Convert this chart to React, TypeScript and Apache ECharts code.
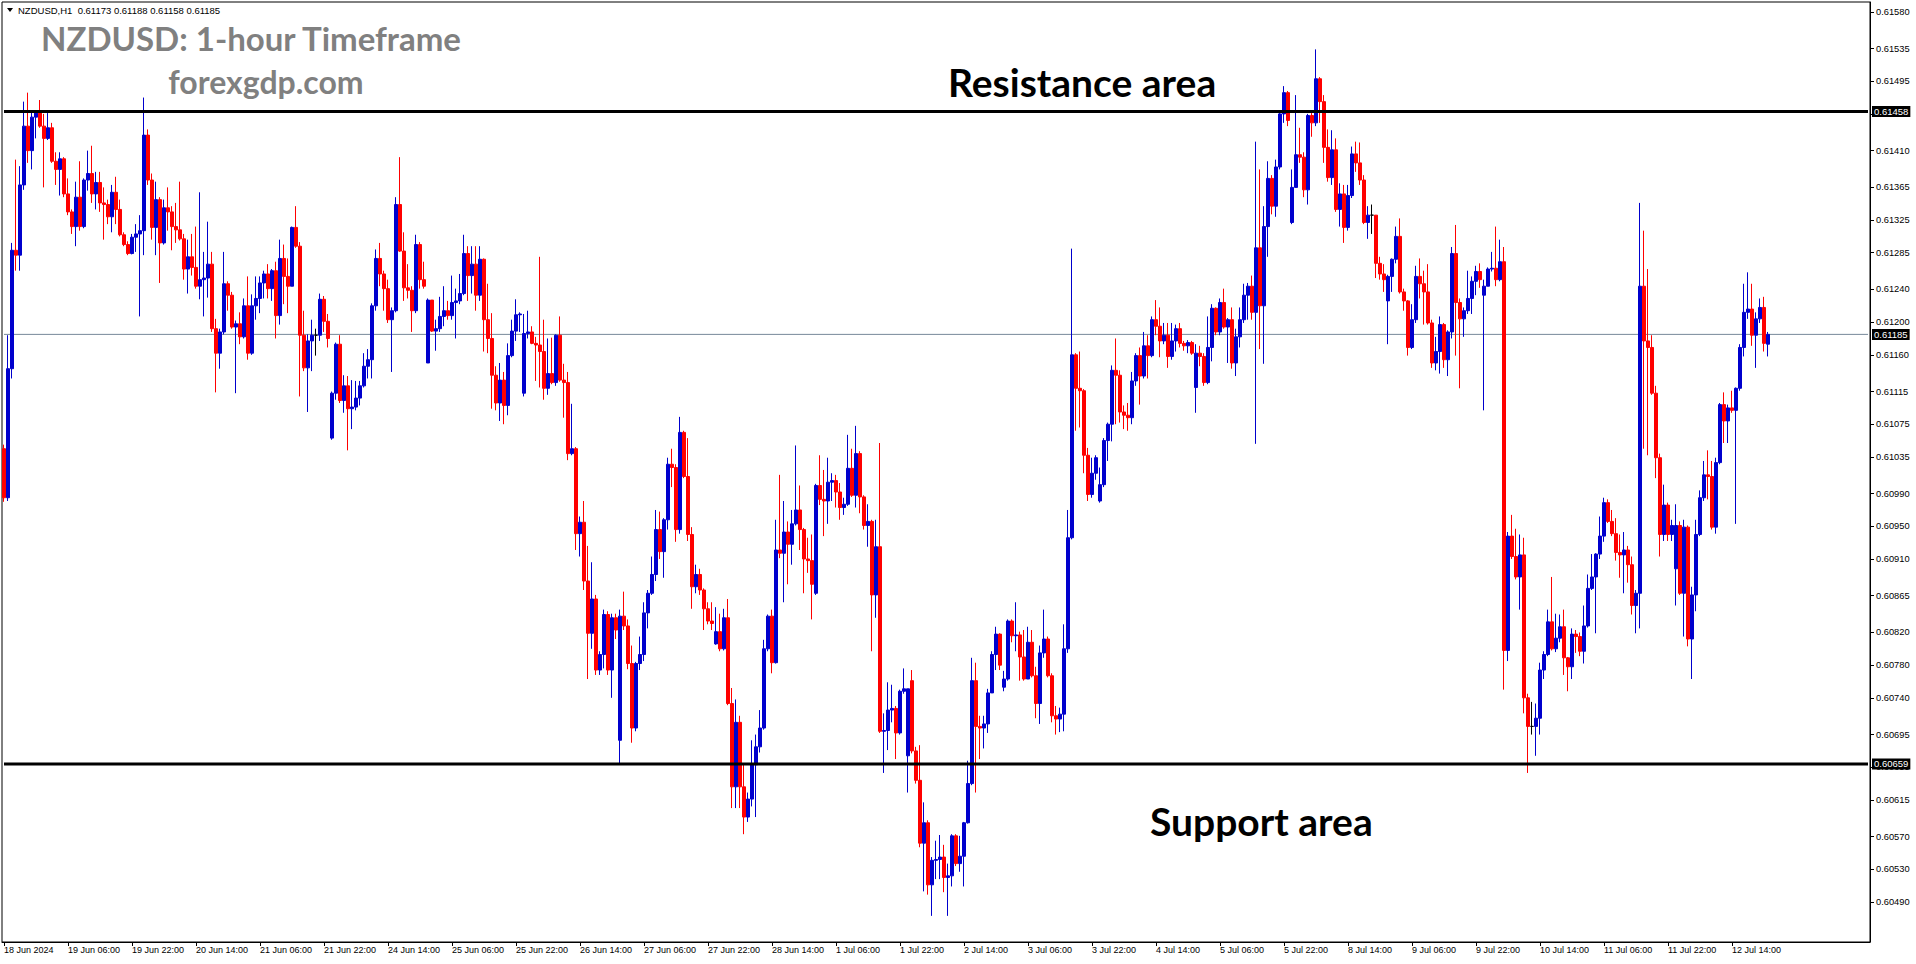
import React, { useEffect, useRef } from "react";
import * as echarts from "echarts";

// Prices are stored in points of 0.00001 above 0.60000 (e.g. 1458 -> 0.61458)
const BASE = 0.6;

const opens = [
  1045, 985, 1143, 1288, 1282, 1368, 1440, 1410, 1451, 1456,
  1440, 1425, 1438, 1397, 1387, 1400, 1357, 1335, 1317, 1353,
  1317, 1374, 1382, 1357, 1371, 1346, 1344, 1329, 1359, 1338,
  1307, 1295, 1284, 1304, 1308, 1312, 1429, 1374, 1316, 1350,
  1297, 1340, 1335, 1317, 1313, 1302, 1265, 1280, 1267, 1244,
  1252, 1254, 1271, 1192, 1162, 1188, 1247, 1233, 1194, 1198,
  1182, 1220, 1162, 1220, 1229, 1248, 1259, 1241, 1263, 1208,
  1278, 1256, 1244, 1316, 1293, 1184, 1144, 1177, 1184, 1184,
  1228, 1201, 1058, 1113, 1173, 1104, 1122, 1094, 1096, 1107,
  1122, 1146, 1154, 1220, 1278, 1259, 1241, 1203, 1214, 1344,
  1287, 1242, 1239, 1214, 1295, 1252, 1150, 1227, 1189, 1192,
  1207, 1214, 1208, 1224, 1226, 1235, 1284, 1257, 1271, 1233,
  1277, 1203, 1180, 1135, 1101, 1129, 1098, 1159, 1189, 1209,
  1113, 1186, 1188, 1174, 1172, 1164, 1119, 1137, 1126, 1184,
  1129, 1126, 1039, 1045, 941, 955, 883, 819, 861, 774,
  793, 842, 774, 838, 688, 840, 828, 782, 703, 782,
  793, 844, 868, 891, 946, 919, 958, 1026, 1022, 946,
  1065, 1011, 940, 876, 891, 872, 849, 834, 806, 821,
  800, 838, 733, 631, 710, 631, 594, 616, 658, 680,
  703, 800, 840, 783, 921, 917, 943, 928, 953, 970,
  946, 910, 908, 868, 1000, 983, 981, 1004, 1006, 992,
  973, 977, 1021, 988, 1039, 986, 951, 956, 866, 925,
  699, 700, 725, 727, 697, 748, 669, 761, 675, 639,
  562, 587, 511, 541, 542, 545, 520, 522, 571, 537,
  546, 587, 635, 761, 705, 703, 708, 746, 793, 818,
  753, 763, 834, 816, 817, 790, 763, 808, 767, 733,
  795, 812, 767, 718, 714, 720, 800, 936, 1160, 1119,
  1116, 1037, 989, 1015, 981, 1001, 1055, 1075, 1141, 1135,
  1090, 1086, 1083, 1128, 1159, 1134, 1171, 1159, 1203, 1195,
  1177, 1184, 1158, 1177, 1192, 1174, 1171, 1175, 1120, 1162,
  1158, 1126, 1169, 1217, 1188, 1224, 1194, 1203, 1150, 1182,
  1203, 1233, 1244, 1212, 1291, 1220, 1317, 1376, 1342, 1390,
  1455, 1481, 1322, 1365, 1405, 1402, 1362, 1453, 1444, 1498,
  1470, 1414, 1377, 1411, 1338, 1357, 1316, 1355, 1406, 1395,
  1374, 1322, 1331, 1331, 1272, 1259, 1226, 1256, 1277, 1305,
  1237, 1226, 1169, 1203, 1256, 1247, 1237, 1199, 1150, 1164,
  1197, 1154, 1188, 1284, 1224, 1204, 1214, 1229, 1250, 1262,
  1233, 1244, 1265, 1266, 1252, 1274, 798, 938, 913, 888,
  915, 740, 705, 705, 715, 774, 793, 833, 800, 813,
  827, 789, 778, 818, 815, 797, 828, 874, 888, 916,
  938, 979, 956, 941, 918, 915, 921, 903, 853, 868,
  1244, 1177, 1169, 1113, 1034, 940, 976, 940, 898, 951,
  868, 949, 812, 866, 940, 985, 1013, 1011, 949, 1028,
  1099, 1079, 1095, 1092, 1119, 1169, 1212, 1216, 1184, 1204,
  1218, 1173,
];

const highs = [
  1050, 1184, 1297, 1399, 1391, 1470, 1481, 1458, 1459, 1472,
  1455, 1456, 1444, 1408, 1408, 1402, 1376, 1338, 1372, 1397,
  1376, 1410, 1416, 1384, 1384, 1365, 1350, 1368, 1378, 1350,
  1310, 1299, 1308, 1320, 1331, 1475, 1436, 1382, 1372, 1353,
  1350, 1365, 1342, 1346, 1372, 1308, 1301, 1308, 1317, 1359,
  1286, 1323, 1286, 1204, 1192, 1286, 1250, 1237, 1202, 1212,
  1229, 1256, 1234, 1256, 1256, 1263, 1271, 1265, 1274, 1301,
  1295, 1278, 1317, 1342, 1298, 1214, 1185, 1203, 1192, 1235,
  1232, 1210, 1115, 1175, 1184, 1135, 1134, 1129, 1128, 1128,
  1162, 1167, 1223, 1289, 1297, 1263, 1252, 1218, 1353, 1402,
  1310, 1271, 1244, 1307, 1298, 1274, 1229, 1227, 1203, 1231,
  1244, 1226, 1257, 1241, 1259, 1307, 1293, 1293, 1293, 1293,
  1278, 1247, 1211, 1146, 1150, 1139, 1174, 1203, 1228, 1212,
  1210, 1214, 1195, 1182, 1280, 1203, 1180, 1181, 1185, 1207,
  1149, 1139, 1100, 1047, 962, 981, 926, 906, 866, 797,
  848, 846, 843, 843, 848, 870, 836, 804, 784, 815,
  857, 872, 913, 970, 968, 960, 1034, 1045, 1026, 1084,
  1067, 1058, 949, 903, 898, 874, 857, 857, 851, 843,
  849, 861, 752, 738, 718, 658, 624, 688, 695, 725,
  811, 842, 848, 958, 1013, 981, 956, 970, 1049, 1000,
  948, 936, 940, 1002, 1037, 1019, 1034, 1015, 1013, 1003,
  985, 1062, 1045, 1073, 1042, 988, 977, 958, 958, 1052,
  721, 759, 756, 730, 750, 776, 751, 774, 680, 682,
  612, 590, 545, 565, 572, 560, 537, 573, 573, 571,
  588, 663, 789, 783, 718, 718, 751, 797, 827, 819,
  773, 836, 836, 857, 821, 823, 827, 823, 778, 804,
  848, 815, 770, 730, 728, 830, 970, 1290, 1162, 1164,
  1118, 1046, 1034, 1037, 1022, 1058, 1077, 1147, 1180, 1141,
  1098, 1101, 1139, 1162, 1169, 1188, 1184, 1207, 1227, 1218,
  1199, 1199, 1199, 1197, 1199, 1177, 1178, 1177, 1173, 1171,
  1162, 1207, 1222, 1218, 1229, 1241, 1205, 1218, 1192, 1218,
  1247, 1248, 1257, 1421, 1387, 1342, 1397, 1380, 1399, 1459,
  1489, 1483, 1387, 1478, 1438, 1408, 1455, 1456, 1534, 1500,
  1478, 1436, 1435, 1425, 1370, 1368, 1368, 1415, 1421, 1420,
  1380, 1342, 1344, 1331, 1280, 1271, 1258, 1278, 1317, 1327,
  1241, 1227, 1222, 1269, 1278, 1263, 1271, 1203, 1182, 1207,
  1199, 1190, 1292, 1319, 1229, 1218, 1263, 1256, 1269, 1272,
  1252, 1267, 1286, 1317, 1301, 1292, 943, 964, 947, 940,
  936, 745, 735, 733, 783, 797, 848, 888, 843, 842,
  848, 790, 825, 823, 820, 853, 891, 916, 917, 962,
  985, 983, 970, 960, 940, 943, 926, 913, 872, 1346,
  1312, 1265, 1184, 1122, 1039, 1001, 979, 958, 977, 956,
  958, 951, 876, 958, 994, 1030, 1043, 1030, 1034, 1101,
  1114, 1099, 1116, 1120, 1173, 1247, 1261, 1247, 1212, 1229,
  1231, 1188,
];

const lows = [
  980, 981, 1131, 1263, 1263, 1362, 1395, 1387, 1425, 1438,
  1365, 1423, 1395, 1368, 1355, 1353, 1331, 1308, 1293, 1312,
  1315, 1361, 1346, 1338, 1335, 1301, 1320, 1310, 1320, 1305,
  1293, 1282, 1283, 1286, 1207, 1282, 1368, 1301, 1282, 1248,
  1295, 1312, 1288, 1297, 1300, 1252, 1235, 1257, 1241, 1228,
  1207, 1230, 1188, 1114, 1143, 1185, 1214, 1192, 1113, 1173,
  1180, 1154, 1160, 1203, 1211, 1229, 1229, 1226, 1180, 1197,
  1222, 1211, 1244, 1291, 1109, 1140, 1090, 1140, 1159, 1177,
  1188, 1169, 1056, 1105, 1101, 1089, 1043, 1069, 1092, 1098,
  1120, 1131, 1131, 1214, 1244, 1214, 1199, 1139, 1212, 1286,
  1226, 1229, 1188, 1211, 1241, 1241, 1150, 1188, 1165, 1188,
  1195, 1203, 1203, 1180, 1222, 1233, 1226, 1235, 1214, 1226,
  1164, 1162, 1094, 1092, 1079, 1075, 1086, 1157, 1177, 1188,
  1109, 1180, 1173, 1128, 1120, 1105, 1111, 1124, 1122, 1127,
  1083, 1031, 1037, 921, 913, 872, 763, 800, 768, 768,
  776, 768, 740, 812, 660, 823, 775, 685, 699, 774,
  785, 825, 866, 883, 910, 887, 946, 998, 931, 941,
  1009, 932, 849, 868, 866, 823, 830, 823, 805, 797,
  798, 731, 605, 605, 605, 573, 588, 607, 594, 673,
  701, 797, 770, 782, 911, 857, 879, 903, 951, 921,
  868, 893, 836, 866, 976, 938, 953, 981, 973, 958,
  964, 975, 986, 973, 966, 946, 925, 797, 838, 697,
  648, 676, 710, 665, 695, 745, 624, 672, 635, 557,
  503, 499, 473, 518, 518, 502, 473, 509, 534, 527,
  509, 586, 633, 624, 665, 678, 697, 750, 774, 774,
  748, 761, 808, 797, 761, 761, 767, 765, 715, 708,
  789, 765, 710, 695, 698, 699, 795, 934, 1067, 1071,
  1015, 981, 985, 1007, 979, 998, 1030, 1054, 1075, 1077,
  1069, 1067, 1075, 1122, 1099, 1131, 1131, 1157, 1184, 1157,
  1173, 1144, 1154, 1164, 1169, 1165, 1162, 1160, 1089, 1146,
  1122, 1124, 1152, 1184, 1184, 1192, 1150, 1143, 1134, 1169,
  1199, 1203, 1203, 1051, 1167, 1149, 1280, 1332, 1329, 1387,
  1444, 1440, 1320, 1382, 1395, 1353, 1344, 1427, 1440, 1444,
  1395, 1372, 1368, 1335, 1317, 1297, 1312, 1352, 1384, 1368,
  1320, 1302, 1308, 1254, 1252, 1237, 1173, 1237, 1272, 1235,
  1214, 1159, 1167, 1199, 1229, 1197, 1197, 1144, 1141, 1137,
  1144, 1134, 1180, 1159, 1119, 1182, 1210, 1210, 1233, 1242,
  1092, 1244, 1262, 1244, 1250, 750, 785, 910, 885, 848,
  721, 648, 695, 669, 695, 763, 791, 798, 796, 808,
  768, 748, 763, 795, 791, 782, 826, 872, 819, 910,
  931, 954, 938, 908, 887, 868, 881, 842, 819, 825,
  1045, 1037, 1111, 1009, 913, 932, 932, 932, 853, 866,
  815, 803, 763, 846, 938, 981, 983, 946, 941, 1026,
  1052, 1052, 1089, 953, 1116, 1158, 1204, 1171, 1144, 1199,
  1164, 1158,
];

const closes = [
  985, 1143, 1288, 1282, 1368, 1440, 1410, 1451, 1456, 1440,
  1425, 1438, 1397, 1387, 1400, 1357, 1335, 1317, 1353, 1317,
  1374, 1382, 1357, 1371, 1346, 1344, 1329, 1359, 1338, 1307,
  1295, 1284, 1304, 1308, 1312, 1429, 1374, 1316, 1350, 1297,
  1340, 1335, 1317, 1313, 1302, 1265, 1280, 1267, 1244, 1252,
  1254, 1271, 1192, 1162, 1188, 1247, 1233, 1194, 1198, 1182,
  1220, 1162, 1220, 1229, 1248, 1259, 1241, 1263, 1208, 1278,
  1256, 1244, 1316, 1293, 1184, 1144, 1177, 1184, 1184, 1228,
  1201, 1180, 1113, 1173, 1104, 1122, 1094, 1096, 1107, 1122,
  1146, 1154, 1220, 1278, 1259, 1241, 1203, 1214, 1344, 1287,
  1242, 1239, 1214, 1295, 1252, 1244, 1227, 1189, 1192, 1207,
  1214, 1208, 1224, 1226, 1235, 1284, 1257, 1271, 1233, 1277,
  1203, 1180, 1135, 1101, 1129, 1098, 1159, 1189, 1209, 1210,
  1186, 1188, 1174, 1172, 1164, 1119, 1137, 1126, 1184, 1129,
  1126, 1039, 1045, 941, 955, 883, 819, 861, 774, 793,
  842, 774, 838, 823, 840, 828, 782, 703, 782, 793,
  844, 868, 891, 946, 919, 958, 1026, 1022, 946, 1065,
  1011, 940, 876, 891, 872, 849, 834, 831, 821, 800,
  838, 733, 631, 710, 631, 594, 616, 658, 680, 703,
  800, 840, 783, 921, 917, 943, 928, 953, 970, 946,
  910, 908, 879, 1000, 983, 981, 1004, 1006, 992, 973,
  977, 1021, 988, 1039, 986, 951, 956, 866, 925, 699,
  700, 725, 727, 697, 748, 751, 751, 675, 639, 562,
  587, 511, 541, 542, 545, 520, 522, 571, 537, 546,
  587, 635, 761, 705, 703, 708, 746, 793, 818, 780,
  763, 834, 816, 817, 790, 763, 808, 767, 733, 795,
  812, 767, 718, 714, 720, 800, 936, 1160, 1119, 1116,
  1037, 989, 1015, 1034, 1001, 1055, 1075, 1141, 1135, 1090,
  1086, 1083, 1128, 1159, 1134, 1171, 1159, 1203, 1195, 1177,
  1184, 1158, 1177, 1192, 1174, 1171, 1175, 1162, 1162, 1158,
  1126, 1169, 1217, 1188, 1224, 1194, 1203, 1150, 1182, 1203,
  1233, 1244, 1212, 1291, 1220, 1317, 1376, 1342, 1390, 1455,
  1481, 1447, 1365, 1405, 1402, 1362, 1453, 1444, 1498, 1470,
  1414, 1377, 1411, 1338, 1357, 1316, 1355, 1406, 1395, 1374,
  1322, 1331, 1331, 1272, 1259, 1252, 1256, 1277, 1305, 1237,
  1226, 1169, 1203, 1256, 1247, 1237, 1199, 1150, 1164, 1197,
  1154, 1188, 1284, 1224, 1204, 1214, 1229, 1250, 1262, 1252,
  1244, 1265, 1266, 1252, 1274, 798, 938, 913, 888, 915,
  740, 705, 705, 715, 774, 793, 833, 800, 813, 827,
  789, 778, 818, 815, 797, 828, 874, 888, 916, 938,
  979, 956, 941, 918, 915, 921, 903, 853, 868, 1244,
  1177, 1169, 1113, 1034, 940, 976, 940, 951, 951, 868,
  949, 812, 866, 940, 985, 1013, 1011, 949, 1028, 1099,
  1079, 1095, 1092, 1119, 1169, 1212, 1216, 1184, 1204, 1218,
  1174, 1185,
];

// empty hourly slots kept on the right (chart shift)
const emptySlots = 25;
const xTickEvery = 16;
const xTickLabels = [
  "18 Jun 2024", "19 Jun 06:00", "19 Jun 22:00", "20 Jun 14:00", "21 Jun 06:00",
  "21 Jun 22:00", "24 Jun 14:00", "25 Jun 06:00", "25 Jun 22:00", "26 Jun 14:00",
  "27 Jun 06:00", "27 Jun 22:00", "28 Jun 14:00", "1 Jul 06:00", "1 Jul 22:00",
  "2 Jul 14:00", "3 Jul 06:00", "3 Jul 22:00", "4 Jul 14:00", "5 Jul 06:00",
  "5 Jul 22:00", "8 Jul 14:00", "9 Jul 06:00", "9 Jul 22:00", "10 Jul 14:00",
  "11 Jul 06:00", "11 Jul 22:00", "12 Jul 14:00",
];

const yTickPoints = [
  1580, 1535, 1495, 1455, 1410, 1365, 1325, 1285, 1240, 1200, 1160, 1115, 1075, 1035,
  990, 950, 910, 865, 820, 780, 740, 695, 655, 615, 570, 530, 490,
];
const yMinPoints = 441;
const yMaxPoints = 1592;

const resistancePoints = 1458;
const supportPoints = 659;
const lastPoints = 1185;

const headerText = "NZDUSD,H1  0.61173 0.61188 0.61158 0.61185";

const px = (v: number) => +(BASE + v / 100000).toFixed(5);

export default function App() {
  const ref = useRef<HTMLDivElement>(null);

  useEffect(() => {
    document.body.style.margin = "0";
    const chart = echarts.init(ref.current!, null, { renderer: "svg" });
    const n = closes.length;
    const cats = Array.from({ length: n + emptySlots }, (_, i) => String(i));
    const data = closes.map((c, i) => {
      const o = opens[i];
      return [px(o), px(c), px(Math.min(lows[i], o, c)), px(Math.max(highs[i], o, c))];
    });
    const lastLabelIdx = (xTickLabels.length - 1) * xTickEvery;
    const showX = (idx: number) => idx % xTickEvery === 0 && idx <= lastLabelIdx;

    const levelLine = (points: number, color: string, width: number, z: number) => ({
      type: "line",
      data: [
        [cats[0], px(points)],
        [cats[cats.length - 1], px(points)],
      ],
      symbol: "none",
      silent: true,
      z,
      lineStyle: { color, width, type: "solid" },
      endLabel: {
        show: true,
        distance: 4,
        formatter: (p: any) => Number(p.value[1]).toFixed(5),
        backgroundColor: "#000000",
        color: "#ffffff",
        fontFamily: "Liberation Sans",
        fontSize: 9.5,
        padding: [1, 2, 0, 2],
      },
    });

    chart.setOption({
      animation: false,
      backgroundColor: "#ffffff",
      grid: {
        left: 2,
        top: 2,
        right: 46,
        bottom: 22,
        show: true,
        borderColor: "#000000",
        borderWidth: 1,
        backgroundColor: "transparent",
      },
      xAxis: {
        type: "category",
        data: cats,
        boundaryGap: true,
        axisLine: { show: true, lineStyle: { color: "#000000", width: 1 } },
        axisTick: {
          show: true,
          interval: (idx: number) => showX(idx),
          alignWithLabel: true,
          length: 4,
          lineStyle: { color: "#000000" },
        },
        axisLabel: {
          interval: (idx: number) => showX(idx),
          formatter: (_v: string, idx: number) => xTickLabels[idx / xTickEvery] ?? "",
          align: "left",
          margin: 3,
          color: "#000000",
          fontFamily: "Liberation Sans",
          fontSize: 9,
        },
        splitLine: { show: false },
      },
      yAxis: {
        type: "value",
        position: "right",
        min: px(yMinPoints),
        max: px(yMaxPoints),
        scale: true,
        axisLine: { show: true, lineStyle: { color: "#000000", width: 1 } },
        axisTick: {
          show: true,
          length: 4,
          customValues: yTickPoints.map(px),
          lineStyle: { color: "#000000" },
        },
        axisLabel: {
          customValues: yTickPoints.map(px),
          formatter: (v: number) => v.toFixed(5),
          margin: 6,
          color: "#000000",
          fontFamily: "Liberation Sans",
          fontSize: 9.3,
        },
        splitLine: { show: false },
      },
      series: [
        levelLine(lastPoints, "#778899", 1, 1),
        {
          type: "candlestick",
          data,
          barWidth: 2.6,
          z: 2,
          itemStyle: {
            color: "#0000cd",
            color0: "#ff0000",
            borderColor: "#0000cd",
            borderColor0: "#ff0000",
            borderColorDoji: "#000000",
            borderWidth: 1,
          },
        },
        levelLine(resistancePoints, "#000000", 3, 3),
        levelLine(supportPoints, "#000000", 3, 3),
      ],
      graphic: [
        {
          type: "polygon",
          shape: { points: [[7, 8], [13, 8], [10, 12]] },
          style: { fill: "#000000" },
          z: 10,
        },
        {
          type: "text",
          x: 18,
          y: 10,
          style: {
            text: headerText,
            fill: "#000000",
            font: "9.5px 'Liberation Sans'",
            textAlign: "left",
            textVerticalAlign: "middle",
          },
          z: 10,
        },
        {
          type: "text",
          x: 251,
          y: 38,
          style: {
            text: "NZDUSD: 1-hour Timeframe",
            fill: "#808080",
            font: "bold 33px Lato",
            textAlign: "center",
            textVerticalAlign: "middle",
          },
          z: 10,
        },
        {
          type: "text",
          x: 266,
          y: 81,
          style: {
            text: "forexgdp.com",
            fill: "#808080",
            font: "bold 32px Lato",
            textAlign: "center",
            textVerticalAlign: "middle",
          },
          z: 10,
        },
        {
          type: "text",
          x: 948,
          y: 82,
          style: {
            text: "Resistance area",
            fill: "#000000",
            font: "bold 39px Lato",
            textAlign: "left",
            textVerticalAlign: "middle",
          },
          z: 10,
        },
        {
          type: "text",
          x: 1150,
          y: 821,
          style: {
            text: "Support area",
            fill: "#000000",
            font: "bold 39px Lato",
            textAlign: "left",
            textVerticalAlign: "middle",
          },
          z: 10,
        },
      ],
    });

    return () => {
      chart.dispose();
    };
  }, []);

  return <div ref={ref} style={{ width: 1916, height: 964 }} />;
}
